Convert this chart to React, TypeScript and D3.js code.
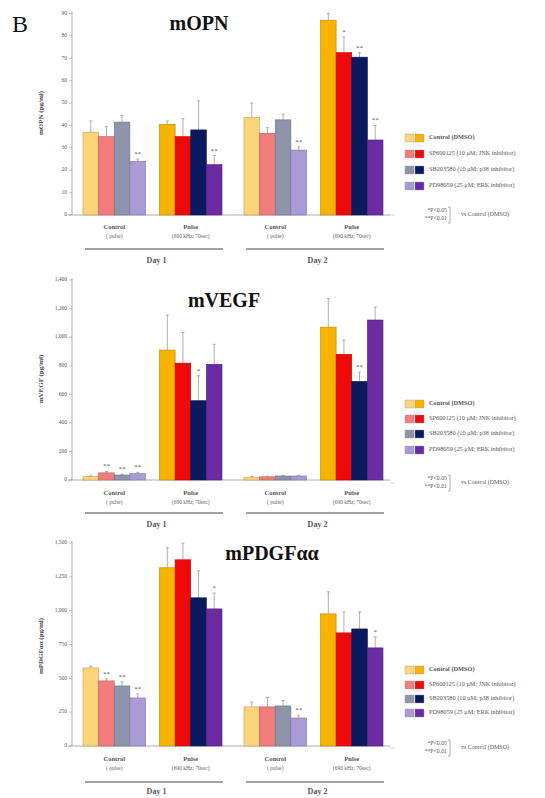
import React from "react";
import * as d3 from "d3";

const days = ["Day 1", "Day 2"];
const groups = ["Control", "Pulse"];
const groupSub = ["( pulse)", "(690 kHz; 70sec)"];
const treatments = [
  "Control (DMSO)",
  "SP600125 (10 μM; JNK inhibitor)",
  "SB203580 (10 μM; p38 inhibitor)",
  "PD98059 (25 μM; ERK inhibitor)",
];
const lightColors = ["#FCD47A", "#F27C7C", "#8E95AA", "#A89BD6"];
const darkColors = ["#F6B400", "#EE0A0A", "#0B1A5E", "#6A2CA0"];

// order: Control D1, Pulse D1, Control D2, Pulse D2
const opnMeans = [[37, 35, 41.5, 24], [40.5, 35, 38, 22.5], [43.5, 36.5, 42.5, 29], [87, 72.5, 70.5, 33.5]];
const opnErr = [[5, 4.5, 3, 1], [1.5, 8, 13, 4], [6.5, 2.5, 2.5, 1.4], [3, 7, 2, 6.5]];
const opnStars = [["", "", "", "**"], ["", "", "", "**"], ["", "", "", "**"], ["", "*", "**", "**"]];
const opnTicks = [0, 10, 20, 30, 40, 50, 60, 70, 80, 90];

const vegfMeans = [[25, 50, 35, 45], [910, 818, 555, 810], [20, 22, 28, 28], [1070, 880, 690, 1120]];
const vegfErr = [[5, 10, 5, 8], [245, 215, 175, 140], [5, 5, 5, 5], [200, 100, 65, 90]];
const vegfStars = [["", "**", "**", "**"], ["", "", "*", ""], ["", "", "", ""], ["", "", "**", ""]];
const vegfTicks = [0, 200, 400, 600, 800, 1000, 1200, 1400];

const pdgfMeans = [[577, 481, 444, 355], [1317, 1376, 1095, 1013], [289, 289, 296, 207], [976, 836, 865, 725]];
const pdgfErr = [[12, 15, 30, 30], [148, 124, 200, 117], [36, 70, 40, 20], [163, 155, 126, 81]];
const pdgfStars = [["", "**", "**", "**"], ["", "", "", "*"], ["", "", "", "**"], ["", "", "", "*"]];
const pdgfTicks = [0, 250, 500, 750, 1000, 1250, 1500];

const serif = "'Liberation Serif', 'DejaVu Serif', serif";
const fmt = d3.format(",");

type PanelProps = {
  title: string;
  yLabel: string;
  means: number[][];
  errs: number[][];
  stars: string[][];
  ticks: number[];
  yTop: number;
  y0: number;
  titleX: number;
  titleY: number;
  labelY: number;
  legendY: number[];
  statY: number;
  xLab: number;
  lineOff: number;
  dayOff: number;
};

const dayScale = d3.scaleBand<string>().domain(days).range([83, 383]).paddingInner(22 / 161);
const groupScale = d3.scaleBand<string>().domain(groups).range([0, dayScale.bandwidth()]).paddingInner(14 / 76.5);
const barScale = d3.scaleBand<number>().domain([0, 1, 2, 3]).range([0, groupScale.bandwidth()]);

function Panel(p: PanelProps) {
  const max = p.ticks[p.ticks.length - 1];
  const y = d3.scaleLinear().domain([0, max]).range([p.y0, p.yTop]);
  const axisX = 72;
  const cells: JSX.Element[] = [];
  p.means.forEach((vals, gi) => {
    const day = days[Math.floor(gi / 2)];
    const grp = groups[gi % 2];
    const gx = (dayScale(day) as number) + (groupScale(grp) as number);
    const cols = gi % 2 === 0 ? lightColors : darkColors;
    vals.forEach((v, bi) => {
      const x = gx + (barScale(bi) as number);
      const w = barScale.bandwidth();
      const top = y(v);
      const et = y(v + p.errs[gi][bi]);
      const cx = x + w / 2;
      const stroke = d3.color(cols[bi])!.darker(0.8).formatHex();
      cells.push(
        <g key={`${gi}-${bi}`}>
          <line x1={cx} x2={cx} y1={top} y2={et} stroke="#a09a90" strokeWidth={0.8} />
          <line x1={cx - 1.5} x2={cx + 1.5} y1={et} y2={et} stroke="#a09a90" strokeWidth={0.8} />
          <rect x={x} y={top} width={w} height={p.y0 - top} fill={cols[bi]} stroke={stroke} strokeWidth={0.6} />
          {p.stars[gi][bi] && (
            <text x={cx} y={et - 3} fontSize={7} textAnchor="middle" fill="#555" fontFamily={serif}>
              {p.stars[gi][bi]}
            </text>
          )}
        </g>
      );
    });
  });
  return (
    <g>
      <text x={p.titleX} y={p.titleY} fontSize={20} fontWeight="bold" fontFamily={serif} textAnchor="middle" dominantBaseline="middle" fill="#111">
        {p.title}
      </text>
      <line x1={axisX} x2={axisX} y1={p.yTop - 2} y2={p.y0} stroke="#999" strokeWidth={0.8} />
      <line x1={axisX - 4} x2={390} y1={p.y0} y2={p.y0} stroke="#999" strokeWidth={0.8} />
      {p.ticks.map((t) => (
        <g key={t}>
          <line x1={axisX - 3} x2={axisX} y1={y(t)} y2={y(t)} stroke="#999" strokeWidth={0.6} />
          <text x={axisX - 5} y={y(t)} fontSize={5.5} textAnchor="end" dominantBaseline="middle" fill="#555" fontFamily={serif}>
            {fmt(t)}
          </text>
        </g>
      ))}
      <text transform={`translate(43,${p.labelY}) rotate(-90)`} fontSize={7} fontWeight="bold" textAnchor="middle" fill="#444" fontFamily={serif}>
        {p.yLabel}
      </text>
      {cells}
      {days.map((d) =>
        groups.map((g, gi) => {
          const cx = (dayScale(d) as number) + (groupScale(g) as number) + groupScale.bandwidth() / 2;
          return (
            <g key={d + g}>
              <text x={cx} y={p.xLab} fontSize={6.5} fontWeight="bold" textAnchor="middle" fill="#555" fontFamily={serif}>{g}</text>
              <text x={cx} y={p.xLab + 9} fontSize={5.5} textAnchor="middle" fill="#666" fontFamily={serif}>{groupSub[gi]}</text>
            </g>
          );
        })
      )}
      {days.map((d) => {
        const x0 = dayScale(d) as number;
        return (
          <g key={d}>
            <line x1={x0 + 2} x2={x0 + dayScale.bandwidth() + 1} y1={p.xLab + p.lineOff} y2={p.xLab + p.lineOff} stroke="#444" strokeWidth={1.2} />
            <text x={x0 + dayScale.bandwidth() / 2 + 4} y={p.xLab + p.dayOff} fontSize={8} fontWeight="bold" textAnchor="middle" fill="#555" fontFamily={serif}>{d}</text>
          </g>
        );
      })}
      {treatments.map((t, i) => (
        <g key={t}>
          <rect x={405} y={p.legendY[i] - 4} width={9} height={8} fill={lightColors[i]} stroke="#999" strokeWidth={0.4} />
          <rect x={415} y={p.legendY[i] - 4} width={9} height={8} fill={darkColors[i]} stroke="#999" strokeWidth={0.4} />
          <text x={429} y={p.legendY[i]} fontSize={6.3} dominantBaseline="middle" fill="#555" fontFamily={serif} fontWeight={i === 0 ? "bold" : "normal"}>{t}</text>
        </g>
      ))}
      <line x1={390} x2={395} y1={p.statY + 4} y2={p.statY + 4} stroke="#bbb" strokeWidth={0.6} />
      <text x={447} y={p.statY} fontSize={5.8} textAnchor="end" dominantBaseline="middle" fill="#555" fontFamily={serif}>*P&lt;0.05</text>
      <text x={447} y={p.statY + 8} fontSize={5.8} textAnchor="end" dominantBaseline="middle" fill="#555" fontFamily={serif}>**P&lt;0.01</text>
      <path d={`M448,${p.statY - 4} L450,${p.statY - 4} L450,${p.statY + 12} L448,${p.statY + 12}`} fill="none" stroke="#777" strokeWidth={0.6} />
      <text x={461} y={p.statY + 4} fontSize={6} dominantBaseline="middle" fill="#555" fontFamily={serif}>vs Control (DMSO)</text>
    </g>
  );
}

export default function App() {
  return (
    <svg width={545} height={798} style={{ position: "absolute", left: 0, top: 0, background: "#fff" }}>
      <text x={12} y={32} fontSize={24} fontFamily={serif} fill="#111">B</text>
      <Panel title="mOPN" yLabel="mOPN (pg/ml)" means={opnMeans} errs={opnErr} stars={opnStars} ticks={opnTicks}
        yTop={13.5} y0={215} titleX={199} titleY={25} labelY={113} legendY={[138, 154, 170, 186]} statY={211} xLab={229} lineOff={20} dayOff={34} />
      <Panel title="mVEGF" yLabel="mVEGF (pg/ml)" means={vegfMeans} errs={vegfErr} stars={vegfStars} ticks={vegfTicks}
        yTop={280} y0={480} titleX={224} titleY={302} labelY={379} legendY={[404, 419, 434, 450]} statY={479} xLab={495} lineOff={18} dayOff={32} />
      <Panel title="mPDGFαα" yLabel="mPDGFαα (pg/ml)" means={pdgfMeans} errs={pdgfErr} stars={pdgfStars} ticks={pdgfTicks}
        yTop={543} y0={746} titleX={272} titleY={555} labelY={646} legendY={[670, 685, 699, 713]} statY={744} xLab={761} lineOff={21} dayOff={33} />
    </svg>
  );
}
